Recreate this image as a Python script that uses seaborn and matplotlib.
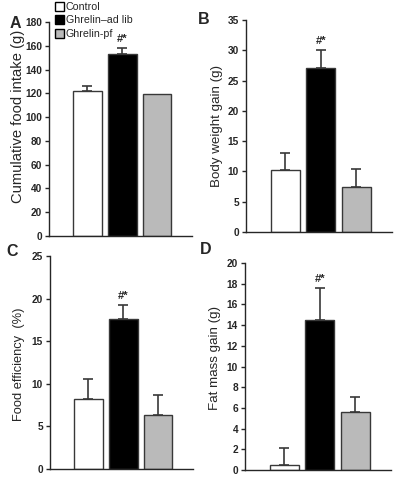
from matplotlib import pyplot as plt
from matplotlib.patches import Patch
import numpy as np
import pandas as pd
import seaborn as sns

groups = ['Control', 'Ghrelin–ad lib', 'Ghrelin-pf']
bar_colors = ['white', 'black', '#bababa']

food_intake = [122, 153, 119.5]
food_intake_err = [4, 5, 0]
weight_gain = [10.2, 27.0, 7.5]
weight_gain_err = [2.9, 3.0, 2.9]
food_eff = [8.2, 17.6, 6.3]
food_eff_err = [2.4, 1.7, 2.4]
fat_gain = [0.5, 14.5, 5.6]
fat_gain_err = [1.6, 3.1, 1.5]

sns.set_style('ticks')
plt.rcParams['font.family'] = ['Liberation Sans', 'DejaVu Sans']

fig = plt.figure(figsize=(4, 4.84), dpi=100)

# letter, values, errors, ylabel, label size, ymax, step, axes rect, label coords, letter pos (px)
panels = [
    ('A', food_intake, food_intake_err, 'Cumulative food intake (g)', 10.6, 180, 20,
     [0.1225, 0.5124, 0.3575, 0.442], (-0.165, 0.56), (15, 23)),
    ('B', weight_gain, weight_gain_err, 'Body weight gain (g)', 9.6, 35, 5,
     [0.615, 0.5207, 0.365, 0.438], (-0.158, 0.5), (204, 20)),
    ('C', food_eff, food_eff_err, 'Food efficiency  (%)', 9.3, 25, 5,
     [0.125, 0.031, 0.3575, 0.440], (-0.175, 0.49), (12, 252)),
    ('D', fat_gain, fat_gain_err, 'Fat mass gain (g)', 9.6, 20, 2,
     [0.6125, 0.0289, 0.365, 0.4277], (-0.164, 0.54), (206, 250)),
]

for letter, vals, errs, ylab, lsize, ymax, step, pos, lcoords, lpos in panels:
    ax = fig.add_axes(pos)
    df = pd.DataFrame({'group': groups, 'value': vals, 'err': errs})
    sns.barplot(data=df, x='group', y='value', hue='group', palette=bar_colors,
                legend=False, edgecolor='#383838', linewidth=1, width=0.82, ax=ax)
    has_err = df[df['err'] > 0]
    ax.errorbar(has_err.index, has_err['value'], yerr=[np.zeros(len(has_err)), has_err['err']],
                fmt='none', ecolor='#383838', elinewidth=1.2, capsize=3.5, capthick=1.2)
    top = vals[1] + errs[1]
    ax.text(1, top + ymax * 0.018, '#*', ha='center', va='bottom', fontsize=8, fontweight='bold')
    ax.set_ylim(0, ymax)
    ticks = np.arange(0, ymax + step / 2, step)
    ax.set_yticks(ticks, labels=[str(int(t)) for t in ticks], fontweight='bold', fontsize=7.3)
    ax.set_xlim(-1.1, 3.0)
    ax.set_xticks([])
    ax.set_xlabel('')
    ax.set_ylabel(ylab, fontsize=lsize)
    ax.yaxis.set_label_coords(*lcoords)
    ax.tick_params(axis='y', length=3, width=1, pad=2)
    sns.despine(ax=ax)
    ax.spines['left'].set_linewidth(1)
    ax.spines['bottom'].set_linewidth(1)
    fig.text(lpos[0] / 400, 1 - lpos[1] / 484, letter, fontsize=11.5,
             fontweight='heavy', ha='center', va='center')

handles = [Patch(facecolor=c, edgecolor='black', linewidth=1) for c in bar_colors]
fig.legend(handles, groups, loc='upper left', bbox_to_anchor=(0.135, 0.997),
           frameon=False, fontsize=7.7, handlelength=0.9, handleheight=0.9,
           handletextpad=0.15, labelspacing=0.3, borderaxespad=0, borderpad=0.05)

plt.savefig('out.png', dpi=100)
